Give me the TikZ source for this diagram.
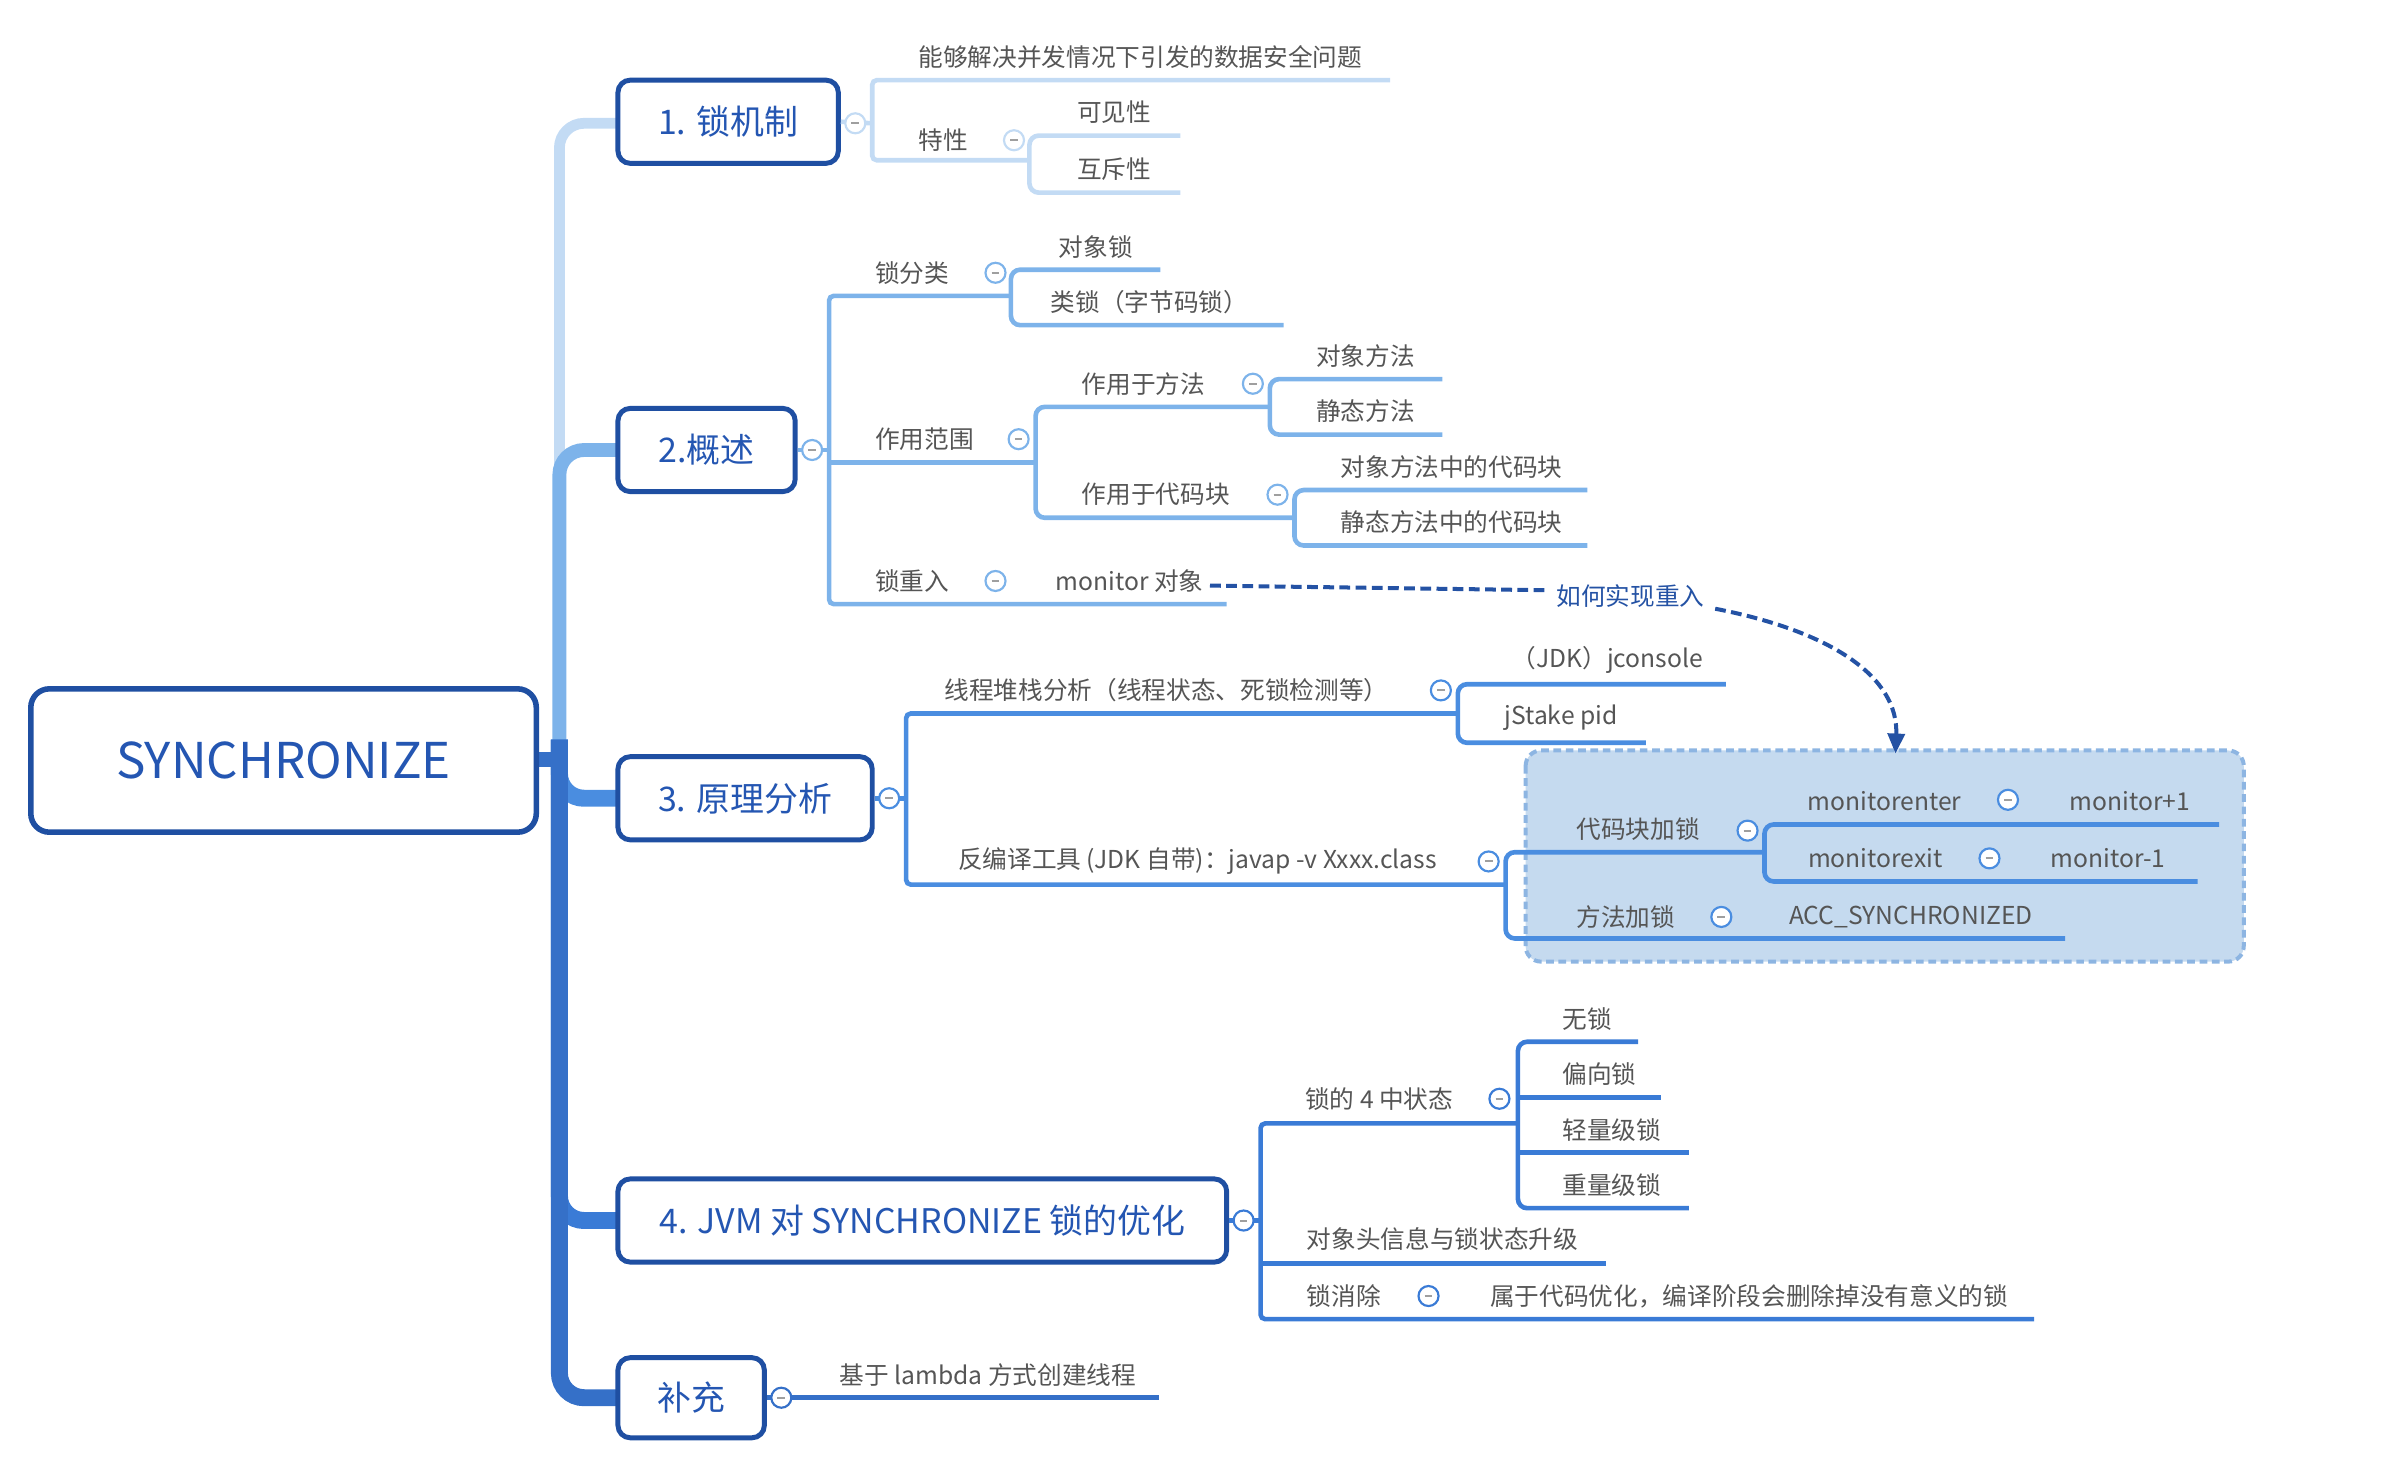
\documentclass[tikz,border=0pt]{standalone}
\usepackage{fontspec}
\setmainfont{Noto Sans CJK SC}
\usetikzlibrary{arrows.meta}
\definecolor{boxblue}{HTML}{1F4FA2}
\definecolor{boxtext}{HTML}{2456B2}
\definecolor{bA}{HTML}{C3DBF4}
\definecolor{bB}{HTML}{7DB3EA}
\definecolor{bC}{HTML}{4A8DE0}
\definecolor{bD}{HTML}{3A7BD6}
\definecolor{bE}{HTML}{3570C8}
\definecolor{txt}{HTML}{555555}
\definecolor{hl}{HTML}{C5DAEF}
\definecolor{hlb}{HTML}{8DB5E2}
\definecolor{arr}{HTML}{2452A4}
\begin{document}
\begin{tikzpicture}[x=1pt,y=-1pt,
  topic/.style={draw=boxblue, line width=3.2pt, rounded corners=8pt, fill=white, text=boxtext,
     font=\fontsize{22}{26}\selectfont, inner sep=0pt, minimum height=54pt},
  lbl/.style={font=\fontsize{16}{19}\selectfont, text=txt, inner sep=0pt},
  mc/.style={circle, draw=#1, fill=white, line width=1.4pt, minimum size=13pt, inner sep=0pt, text=gray!75},
  ul/.style={line width=3pt},
  br/.style={line width=#1, rounded corners=16pt},
  rs/.style={rounded corners=3pt},
  rr/.style={rounded corners=6pt},
  dsh/.style={draw=arr, line width=2.6pt, dash pattern=on 7pt off 3.5pt}
]
\useasboundingbox (0,0) rectangle (1560,954);

% ---------------- trunk branches ----------------
\draw[bA, br=7pt] (363,493) -- (363,80) -- (401,80);
\draw[bB, br=9pt] (363,493) -- (363,292) -- (401,292);
\draw[bC, br=11pt] (363,480) -- (363,518) -- (401,518);
\draw[bD, br=11pt] (363,480) -- (363,792) -- (401,792);
\draw[bE, br=11pt] (363,480) -- (363,907) -- (401,907);
\draw[bE, line width=10pt] (346,493) -- (366,493);

% ---------------- root and topics ----------------
\node[topic, rounded corners=12pt, line width=3.6pt, minimum width=328pt, minimum height=93pt,
      font=\fontsize{32}{37}\selectfont] (root) at (184,493.5) {SYNCHRONIZE};
\node[topic, minimum width=143pt] (k1) at (472.5,79) {1. 锁机制};
\node[topic, minimum width=115pt] (k2) at (458.5,292) {2.概述};
\node[topic, minimum width=165pt] (k3) at (483.5,518) {3. 原理分析};
\node[topic, minimum width=395pt] (k4) at (598.5,792) {4. JVM 对 SYNCHRONIZE 锁的优化};
\node[topic, minimum width=95pt, minimum height=52pt] (k5) at (448.5,907) {补充};

% ---------------- branch 1 ----------------
\draw[bA, ul] (k1.east) -- (566,80);
\draw[bA, ul, rs] (902,52) -- (566,52) -- (566,104) -- (668,104);
\draw[bA, ul, rr] (766,88) -- (668,88) -- (668,125) -- (766,125);
\node[mc=bA] (c1) at (555,80) {\rule{5pt}{1.3pt}};
\node[mc=bA] (c1b) at (658,91) {\rule{5pt}{1.3pt}};
\node[lbl] (a1) at (740,37) {能够解决并发情况下引发的数据安全问题};
\node[lbl] (a2) at (612,91) {特性};
\node[lbl] (a3) at (723,73) {可见性};
\node[lbl] (a4) at (723,110) {互斥性};

% ---------------- branch 2 ----------------
\draw[bB, ul] (k2.east) -- (538,292);
\draw[bB, ul, rs] (656,192) -- (538,192) -- (538,392) -- (796,392);
\draw[bB, ul] (538,300) -- (672,300);
\draw[bB, ul, rr] (753,175) -- (656,175) -- (656,211) -- (833,211);
\draw[bB, ul, rr] (824,264) -- (672,264) -- (672,336) -- (840,336);
\draw[bB, ul, rr] (936,246) -- (824,246) -- (824,282) -- (936,282);
\draw[bB, ul, rr] (1030,318) -- (840,318) -- (840,354) -- (1030,354);
\node[mc=bB] (c2) at (527,292) {\rule{5pt}{1.3pt}};
\node[mc=bB] (c2a) at (646,177) {\rule{5pt}{1.3pt}};
\node[mc=bB] (c2b) at (661,285) {\rule{5pt}{1.3pt}};
\node[mc=bB] (c2c) at (813,249) {\rule{5pt}{1.3pt}};
\node[mc=bB] (c2d) at (829,321) {\rule{5pt}{1.3pt}};
\node[mc=bB] (c2e) at (646,377) {\rule{5pt}{1.3pt}};
\node[lbl] (b1) at (592,177) {锁分类};
\node[lbl] (b2) at (711,160) {对象锁};
\node[lbl] (b3) at (746,196) {类锁（字节码锁）};
\node[lbl] (b4) at (600,285) {作用范围};
\node[lbl] (b5) at (742,249) {作用于方法};
\node[lbl] (b6) at (886,231) {对象方法};
\node[lbl] (b7) at (886,267) {静态方法};
\node[lbl] (b8) at (750,321) {作用于代码块};
\node[lbl] (b9) at (942,303) {对象方法中的代码块};
\node[lbl] (b10) at (942,339) {静态方法中的代码块};
\node[lbl] (b11) at (592,377) {锁重入};
\node[lbl] (b12) at (733,377) {monitor 对象};

% ---------------- dashed relation ----------------
\node[font=\fontsize{16}{19}\selectfont, text=arr, inner sep=0pt] (rel) at (1058,387) {如何实现重入};
\coordinate (relA) at (1003,383);
\coordinate (relB) at (1113,395);

% ---------------- branch 3 ----------------
\draw[hlb, fill=hl, line width=2.6pt, dash pattern=on 5pt off 3pt, rounded corners=10pt] (990,487) rectangle (1456,624);
\draw[bC, ul] (k3.east) -- (588,518);
\draw[bC, ul, rs] (946,463) -- (588,463) -- (588,574) -- (977,574);
\draw[bC, ul, rr] (1120,444) -- (946,444) -- (946,482) -- (1068,482);
\draw[bC, ul, rr] (1145,553) -- (977,553) -- (977,609) -- (1340,609);
\draw[bC, ul, rr] (1440,535) -- (1145,535) -- (1145,572) -- (1426,572);
\node[mc=bC] (c3) at (577,518) {\rule{5pt}{1.3pt}};
\node[mc=bC] (c3a) at (935,448) {\rule{5pt}{1.3pt}};
\node[mc=bC] (c3b) at (966,559) {\rule{5pt}{1.3pt}};
\node[mc=bC] (c3c) at (1134,539) {\rule{5pt}{1.3pt}};
\node[mc=bC] (c3d) at (1303,519) {\rule{5pt}{1.3pt}};
\node[mc=bC] (c3e) at (1291,557) {\rule{5pt}{1.3pt}};
\node[mc=bC] (c3f) at (1117,595) {\rule{5pt}{1.3pt}};
\node[lbl] (d1) at (757,448) {线程堆栈分析（线程状态、死锁检测等）};
\node[lbl] (d2) at (1043,428) {（JDK）jconsole};
\node[lbl] (d3) at (1013,466) {jStake pid};
\node[lbl] (d4) at (777,559) {反编译工具 (JDK 自带)：javap -v Xxxx.class};
\node[lbl] (d5) at (1063,538) {代码块加锁};
\node[lbl] (d6) at (1223,520) {monitorenter};
\node[lbl] (d7) at (1382,520) {monitor+1};
\node[lbl] (d8) at (1217,557) {monitorexit};
\node[lbl] (d9) at (1368,557) {monitor-1};
\node[lbl] (d10) at (1055,595) {方法加锁};
\node[lbl] (d11) at (1240,595) {ACC\_SYNCHRONIZED};

\draw[dsh] (b12.east) ++(4,3) -- (relA);
\draw[dsh, -{Triangle[length=13pt,width=11pt]}] (relB) .. controls (1190,410) and (1232,440) .. (1230,489);

% ---------------- branch 4 ----------------
\draw[bD, ul] (k4.east) -- (818,792);
\draw[bD, ul, rs] (985,729) -- (818,729) -- (818,856) -- (1320,856);
\draw[bD, ul] (818,820) -- (1042,820);
\draw[bD, ul, rr] (1063,676) -- (985,676) -- (985,784) -- (1096,784);
\draw[bD, ul] (985,712) -- (1078,712);
\draw[bD, ul] (985,748) -- (1096,748);
\node[mc=bD] (c4) at (807,792) {\rule{5pt}{1.3pt}};
\node[mc=bD] (c4a) at (973,713) {\rule{5pt}{1.3pt}};
\node[mc=bD] (c4b) at (927,841) {\rule{5pt}{1.3pt}};
\node[lbl] (e1) at (895,713) {锁的 4 中状态};
\node[lbl] (e2) at (1030,661) {无锁};
\node[lbl] (e3) at (1038,697) {偏向锁};
\node[lbl] (e4) at (1046,733) {轻量级锁};
\node[lbl] (e5) at (1046,769) {重量级锁};
\node[lbl] (e6) at (936,804) {对象头信息与锁状态升级};
\node[lbl] (e7) at (872,841) {锁消除};
\node[lbl] (e8) at (1135,841) {属于代码优化，编译阶段会删除掉没有意义的锁};

% ---------------- branch 5 ----------------
\draw[bE, ul] (k5.east) -- (752,907);
\node[mc=bE] (c5) at (507,907) {\rule{5pt}{1.3pt}};
\node[lbl] (f1) at (641,892) {基于 lambda 方式创建线程};
\end{tikzpicture}
\end{document}
